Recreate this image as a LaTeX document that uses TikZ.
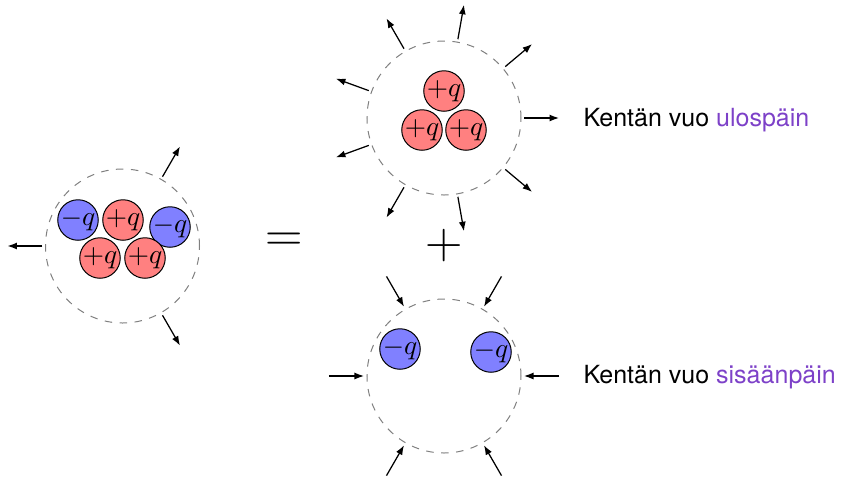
\documentclass[tikz,border=0pt]{standalone}
\usepackage{fontspec}
\setsansfont{TeX Gyre Heros}
\usetikzlibrary{arrows.meta,calc}
\definecolor{fluxviolet}{RGB}{125,65,200}
\begin{document}
\begin{tikzpicture}[x=0.4pt,y=-0.4pt,
  surf/.style={circle,draw=gray,dashed,minimum size=61.6pt,inner sep=0pt,outer sep=1.2pt},
  charge/.style={circle,draw,minimum size=15.6pt,inner sep=0pt,font=\fontsize{11}{13}\selectfont},
  poscharge/.style={charge,fill=red!50},
  negcharge/.style={charge,fill=blue!50},
  flux/.style={-{Latex[length=3.8pt,width=2.8pt]},line width=0.5pt},
  lbl/.style={font=\sffamily,anchor=base west,inner sep=0pt},
  bigsym/.style={font=\huge,inner sep=0pt}]
\useasboundingbox (0,0) rectangle (842,476);

% left: total
\node[surf] (L) at (122.5,246) {};
\node[negcharge] (L1) at (78,220) {$-q$};
\node[poscharge] (L2) at (123,220) {$+q$};
\node[negcharge] (L3) at (170,227) {$-q$};
\node[poscharge] (L4) at (100,258) {$+q$};
\node[poscharge] (L5) at (145,258) {$+q$};
\foreach \a in {60,180,300}
  \draw[flux] (L.\a) -- ($(L.center)+(\a:46pt)$);

% equals and plus
\node[bigsym] (eq) at (284,242) {$=$};
\node[bigsym] (pl) at (444.5,246) {$+$};

% top: positive charges
\node[surf] (T) at (444,118) {};
\node[poscharge] (T1) at (444,91) {$+q$};
\node[poscharge] (T2) at (422,130) {$+q$};
\node[poscharge] (T3) at (466,130) {$+q$};
\foreach \a in {0,40,...,320}
  \draw[flux] (T.\a) -- ($(T.center)+(\a:46pt)$);

% bottom: negative charges
\node[surf] (B) at (444,376) {};
\node[negcharge] (B1) at (400,349) {$-q$};
\node[negcharge] (B2) at (491,352) {$-q$};
\foreach \a in {0,60,...,300}
  \draw[flux] ($(B.center)+(\a:46pt)$) -- (B.\a);

% labels
\node[lbl] (t1) at (583,126) {Kentän vuo \textcolor{fluxviolet}{ulospäin}};
\node[lbl] (t2) at (583,383) {Kentän vuo \textcolor{fluxviolet}{sisäänpäin}};
\end{tikzpicture}
\end{document}
